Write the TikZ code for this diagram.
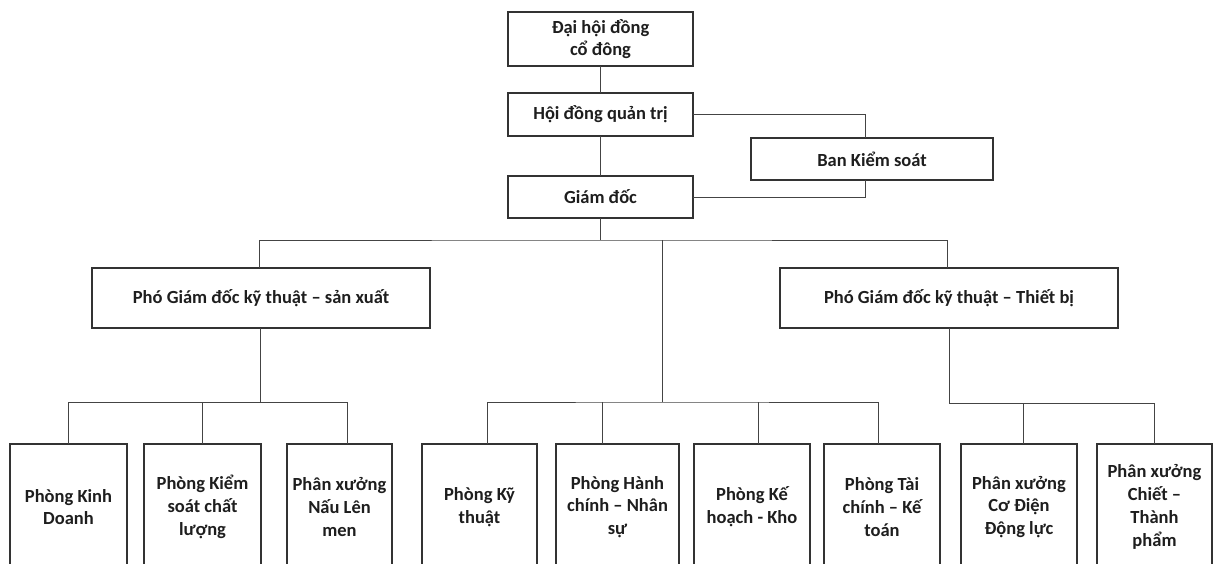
\documentclass[tikz,border=0pt]{standalone}
\usepackage{fontspec}
\setmainfont{Carlito}
\definecolor{boxc}{HTML}{333333}
\definecolor{linec}{HTML}{444444}
\definecolor{txt}{HTML}{1E1E1E}
\begin{document}
\begin{tikzpicture}[x=1pt,y=-1pt,
  box/.style={draw=boxc, line width=1.2pt, fill=white, align=center, text=txt,
    font=\bfseries\fontsize{18.5}{22.8}\selectfont, inner sep=0pt, outer sep=0pt},
  unit/.style={box, minimum width=117pt, minimum height=126pt},
  conn/.style={draw=linec, line width=1pt}]
\useasboundingbox (0,0) rectangle (1218,563);
\fill[white] (0,0) rectangle (1218,563);
\clip (0,0) rectangle (1218,563);

% top levels
\node[box, minimum width=185pt, minimum height=54pt] (agm) at (600.5,39) {Đại hội đồng\\cổ đông};
\node[box, minimum width=185pt, minimum height=43pt] (hdqt) at (600.5,114.5) {Hội đồng quản trị};
\node[box, minimum width=242pt, minimum height=42pt] (bks) at (872,159) {Ban Kiểm soát};
\node[box, minimum width=185pt, minimum height=42pt] (gd) at (600.5,197) {Giám đốc};
\node[box, minimum width=338pt, minimum height=60pt] (pgd1) at (261,298) {Phó Giám đốc kỹ thuật – sản xuất};
\node[box, minimum width=338pt, minimum height=60pt] (pgd2) at (949,298) {Phó Giám đốc kỹ thuật – Thiết bị};

% bottom units
\node[unit] (b1) at (68.5,507) {Phòng Kinh\\Doanh};
\node[unit] (b2) at (202.5,507) {Phòng Kiểm\\soát chất\\lượng};
\node[unit, minimum width=105pt] (b3) at (339.5,507) {Phân xưởng\\Nấu Lên\\men};
\node[unit, minimum width=115pt] (b4) at (479.5,507) {Phòng Kỹ\\thuật};
\node[unit, minimum width=123pt] (b5) at (617.5,507) {Phòng Hành\\chính – Nhân\\sự};
\node[unit, minimum width=116pt] (b6) at (752,507) {Phòng Kế\\hoạch - Kho};
\node[unit, minimum width=116pt] (b7) at (882,507) {Phòng Tài\\chính – Kế\\toán};
\node[unit, minimum width=116pt] (b8) at (1019,507) {Phân xưởng\\Cơ Điện\\Động lực};
\node[unit, minimum width=115pt] (b9) at (1154.5,507) {Phân xưởng\\Chiết –\\Thành\\phẩm};

% upper connectors
\draw[conn] (agm.south) -- (hdqt.north);
\draw[conn] (hdqt.south) -- (gd.north);
\draw[conn] (hdqt.east) -| ([xshift=-7pt]bks.north);
\draw[conn] (gd.east) -| ([xshift=-7pt]bks.south);

% Giám đốc bus
\coordinate (j0) at (600.5,240);
\coordinate (m0) at (662,240);
\coordinate (m1) at (662,402);
\draw[conn] (gd.south) -- (j0);
\draw[conn] ([xshift=-2pt]pgd1.north) |- (j0) -| ([xshift=-2pt]pgd2.north);
\draw[conn] (m0) -- (m1);

% group 1
\coordinate (g1) at (260,402);
\draw[conn] (pgd1.south -| g1) -- (g1);
\draw[conn] (b1.north) |- (g1);
\draw[conn] (b2.north) -- (b2.north |- g1);
\draw[conn] (g1) -| ([xshift=7.5pt]b3.north);

% group 2 (middle)
\draw[conn] ([xshift=7.5pt]b4.north) |- (m1) -| ([xshift=-4pt]b7.north);
\draw[conn] ([xshift=-15.5pt]b5.north) -- ([xshift=-15.5pt]b5.north |- m1);
\draw[conn] ([xshift=6pt]b6.north) -- ([xshift=6pt]b6.north |- m1);

% group 3
\coordinate (g3) at (949,403);
\draw[conn] (pgd2.south) -- (g3);
\draw[conn] (g3) -| (b9.north);
\draw[conn] ([xshift=4pt]b8.north) -- ([xshift=4pt]b8.north |- g3);
\end{tikzpicture}
\end{document}
